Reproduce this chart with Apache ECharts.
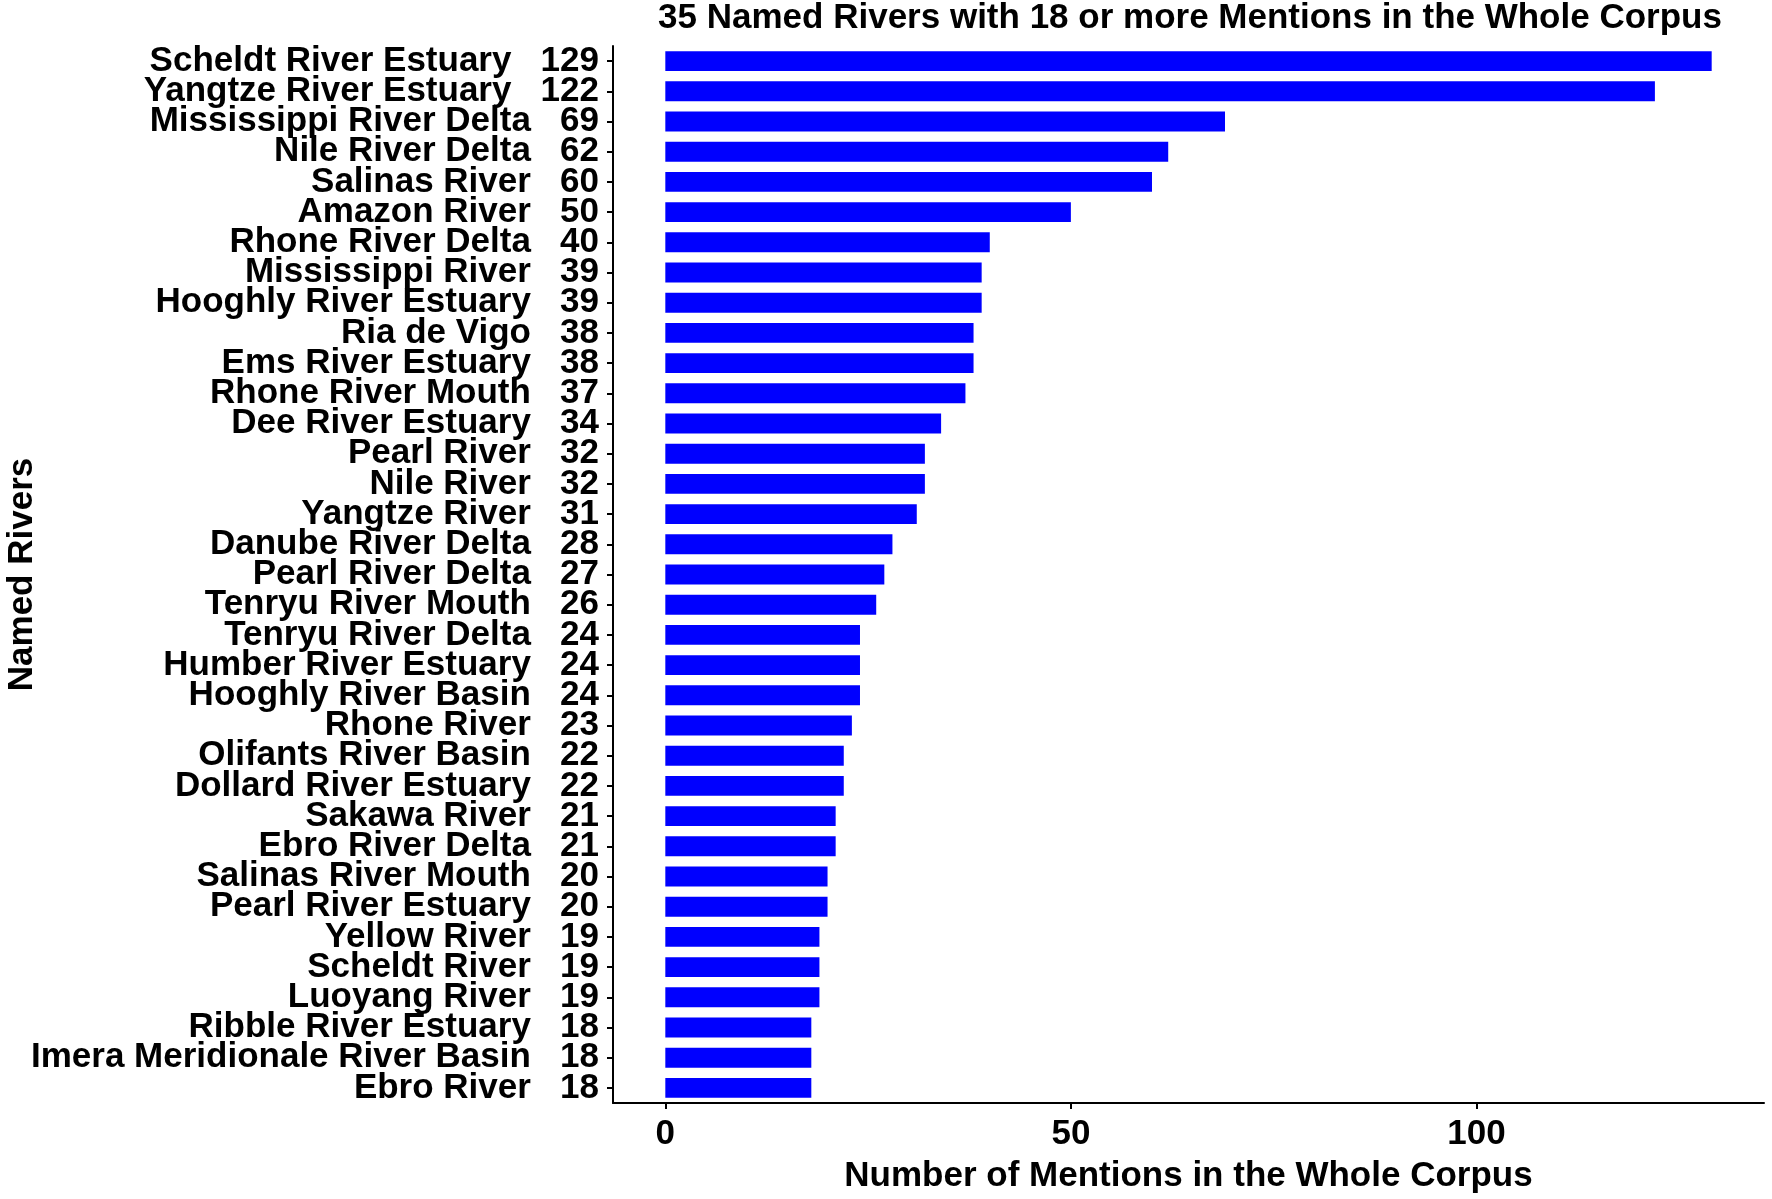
<!DOCTYPE html>
<html>
<head>
<meta charset="utf-8">
<script src="https://cdn.jsdelivr.net/npm/echarts@6/dist/echarts.min.js"></script>
<style>
html,body{margin:0;padding:0;background:#fff;}
#chart{width:1772px;height:1199px;}
</style>
</head>
<body>
<div id="chart"></div>
<script>
const rivers = [
  "Scheldt River Estuary","Yangtze River Estuary","Mississippi River Delta","Nile River Delta",
  "Salinas River","Amazon River","Rhone River Delta","Mississippi River","Hooghly River Estuary",
  "Ria de Vigo","Ems River Estuary","Rhone River Mouth","Dee River Estuary","Pearl River",
  "Nile River","Yangtze River","Danube River Delta","Pearl River Delta","Tenryu River Mouth",
  "Tenryu River Delta","Humber River Estuary","Hooghly River Basin","Rhone River",
  "Olifants River Basin","Dollard River Estuary","Sakawa River","Ebro River Delta",
  "Salinas River Mouth","Pearl River Estuary","Yellow River","Scheldt River","Luoyang River",
  "Ribble River Estuary","Imera Meridionale River Basin","Ebro River"
];
const mentions = [
  129,122,69,62,60,50,40,39,39,38,38,37,34,32,32,31,28,27,26,24,24,24,23,22,22,21,21,20,20,19,19,19,18,18,18
];
const xTicks = [0,50,100];
const titleText = "35 Named Rivers with 18 or more Mentions in the Whole Corpus";
const xTitle = "Number of Mentions in the Whole Corpus";
const yTitle = "Named Rivers";

const FONT = "'Liberation Sans', Arial, sans-serif";
const chart = echarts.init(document.getElementById('chart'), null, {renderer:'canvas'});
const labels = rivers.map((r,i)=> r + "   " + mentions[i]);

chart.setOption({
  animation:false,
  backgroundColor:'#ffffff',
  graphic:[{
    type:'text', x:1190, y:1,
    style:{text:titleText, font:"bold 35px " + FONT, fill:'#000', textAlign:'center', textVerticalAlign:'top'}
  }],
  grid:{left:613, right:8, top:46, bottom:96, containLabel:false, outerBoundsMode:'none'},
  xAxis:{
    type:'value', min:-6.45, max:135.45,
    name:xTitle, nameLocation:'middle', nameGap:56, nameMoveOverlap:false,
    nameTextStyle:{fontFamily:FONT, fontWeight:'bold', fontSize:35, color:'#000'},
    axisLine:{show:true, onZero:false, lineStyle:{color:'#000', width:2}},
    axisTick:{show:true, length:6, lineStyle:{color:'#000', width:2}, customValues:xTicks},
    axisLabel:{fontFamily:FONT, fontWeight:'bold', fontSize:35, color:'#000', margin:14, customValues:xTicks},
    splitLine:{show:false}
  },
  yAxis:{
    type:'category', data:labels, inverse:true,
    name:yTitle, nameLocation:'middle', nameGap:573, nameRotate:90, nameMoveOverlap:false,
    nameTextStyle:{fontFamily:FONT, fontWeight:'bold', fontSize:35, color:'#000'},
    axisLine:{show:true, onZero:false, lineStyle:{color:'#000', width:2}},
    axisTick:{show:true, length:6, alignWithLabel:true, lineStyle:{color:'#000', width:2}},
    axisLabel:{fontFamily:FONT, fontWeight:'bold', fontSize:35, color:'#000', margin:14, interval:0},
    splitLine:{show:false}
  },
  series:[{
    type:'bar', data:mentions, barWidth:'66%',
    itemStyle:{color:'#0000FF'}
  }]
});
</script>
</body>
</html>
